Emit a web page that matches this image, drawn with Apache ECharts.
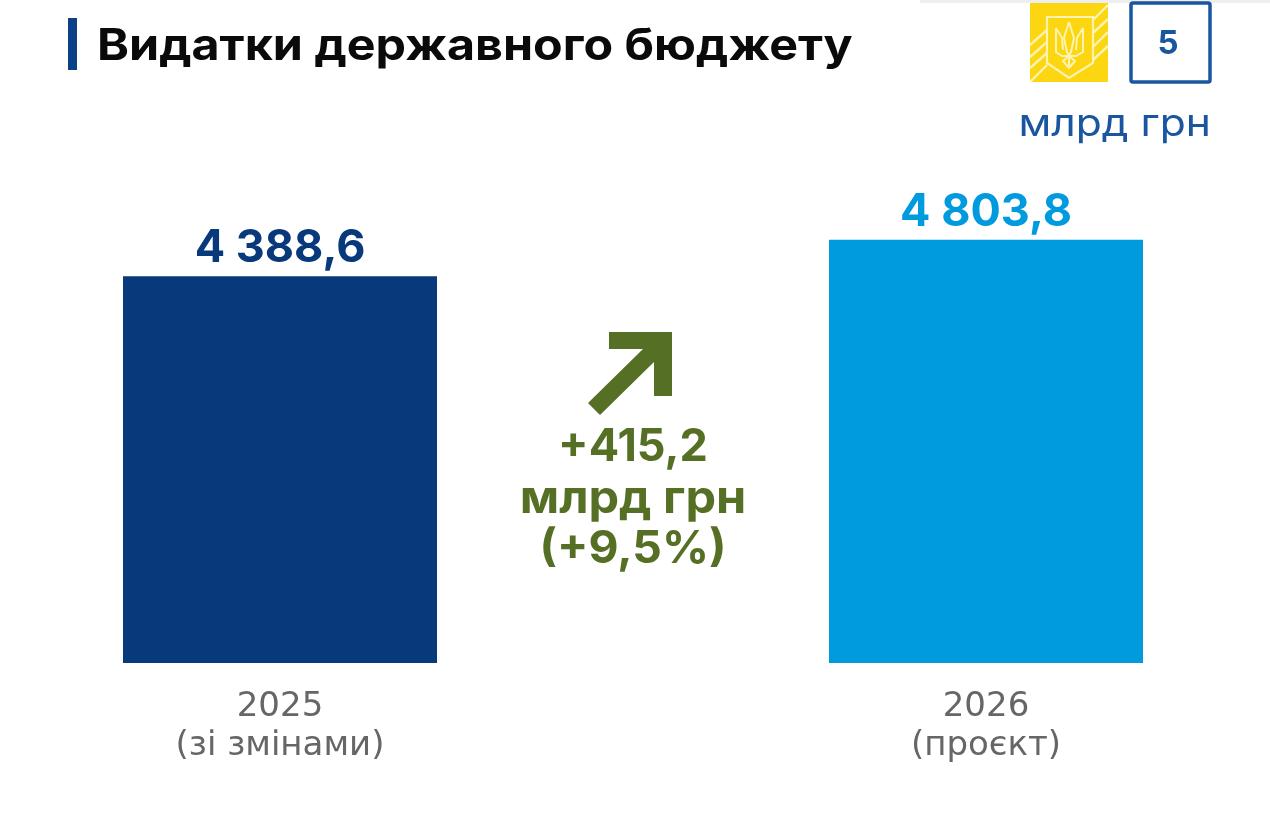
<!DOCTYPE html>
<html>
<head>
<meta charset="utf-8">
<title>Видатки державного бюджету</title>
<script src="https://cdn.jsdelivr.net/npm/echarts@6/dist/echarts.min.js"></script>
<style>
html, body { margin: 0; padding: 0; background: #fff; }
#main { width: 1270px; height: 830px; }
</style>
</head>
<body>
<div id="main"></div>
<script>
// дані
var categories = ['2025\n(зі змінами)', '', '2026\n(проєкт)'];
var values = [4388.6, null, 4803.8];
var valueLabels = ['4 388,6', '', '4 803,8'];
var barColors = ['#08397b', '#ffffff', '#009ade'];
var titleText = 'Видатки державного бюджету';
var unitText = 'млрд грн';
var pageNumber = '5';
var changeLines = ['+415,2', 'млрд грн', '(+9,5%)'];

var FONT = 'Inter, "Noto Sans", sans-serif';
var GREEN = '#556f25';
var BLUE = '#1a559f';
var PALE = '#fff3b0';
var YELLOW = '#fbd611';

var myChart = echarts.init(document.getElementById('main'), null, { renderer: 'canvas' });

var seriesData = [];
for (var i = 0; i < values.length; i++) {
	seriesData.push({
		value: values[i],
		itemStyle: { color: barColors[i] },
		label: { color: barColors[i], formatter: valueLabels[i] }
	});
}

// текст із горизонтальним розтягом (шрифт оригіналу ширший)
function wideText(x, y, text, fill, font, align, sx) {
	return {
		type: 'text', x: x, y: y, originX: 0, originY: 0, scaleX: sx,
		style: { text: text, fill: fill, font: font, textAlign: align, textVerticalAlign: 'middle' }
	};
}

// герб: жовтий квадрат, смуги, щит, тризуб
var emblem = [
	{ type: 'rect', shape: { x: 1030, y: 3, width: 78, height: 79 }, style: { fill: YELLOW } }
];
var stripes = [
	[[1093, 20], [1108, 5]], [[1093, 33], [1108, 19]], [[1093, 47], [1108, 32]], [[1093, 60], [1108, 46]],
	[[1030, 45], [1047, 30]], [[1030, 57], [1047, 42]], [[1030, 68], [1047, 53]], [[1030, 82], [1047, 65]]
];
stripes.forEach(function (s) {
	emblem.push({ type: 'polyline', shape: { points: s }, style: { stroke: PALE, lineWidth: 2.4, fill: null } });
});
emblem.push({
	type: 'polygon',
	shape: { points: [[1047, 17], [1093, 17], [1093, 63], [1069, 78], [1047, 63]] },
	style: { fill: YELLOW, stroke: PALE, lineWidth: 2.2 }
});
var trident = [
	[[1069, 22], [1064, 38], [1067, 52], [1069, 56], [1071, 52], [1074, 38], [1069, 22]],
	[[1056, 28], [1056, 52], [1062, 56], [1076, 56], [1083, 52], [1083, 28]],
	[[1056, 28], [1062, 38], [1063, 50]],
	[[1083, 28], [1077, 38], [1076, 50]],
	[[1069, 56], [1063, 61], [1069, 68], [1075, 61], [1069, 56]],
	[[1069, 56], [1069, 68]]
];
trident.forEach(function (t) {
	emblem.push({ type: 'polyline', shape: { points: t }, style: { stroke: PALE, lineWidth: 2, fill: null } });
});

myChart.setOption({
	animation: false,
	backgroundColor: '#ffffff',
	grid: { left: 103.5, width: 1059, top: 222.5, height: 440.5 },
	xAxis: {
		type: 'category',
		data: categories,
		axisLine: { show: false },
		axisTick: { show: false },
		axisLabel: {
			color: '#666666',
			fontFamily: '"DejaVu Sans", sans-serif',
			fontSize: 34,
			lineHeight: 39,
			margin: 25,
			interval: 0
		}
	},
	yAxis: { type: 'value', min: 0, max: 5000, show: false },
	series: [{
		type: 'bar',
		barWidth: 314,
		data: seriesData,
		label: {
			show: true,
			position: 'top',
			distance: 5,
			fontFamily: FONT,
			fontSize: 45,
			fontWeight: 700
		}
	}],
	graphic: emblem.concat([
		// тінь згори праворуч
		{ type: 'rect', shape: { x: 920, y: 0, width: 350, height: 3 }, style: { fill: '#eeeeee' } },
		// заголовок
		{ type: 'rect', shape: { x: 68, y: 18, width: 9, height: 52 }, style: { fill: '#0a4088' } },
		wideText(97, 47, titleText, '#0a0a0a', '700 44px ' + FONT, 'left', 1.1),
		// номер сторінки
		{ type: 'rect', shape: { x: 1131, y: 3, width: 79, height: 79, r: 2 }, style: { fill: '#fff', stroke: BLUE, lineWidth: 3.5 } },
		{ type: 'text', x: 1168, y: 44, style: { text: pageNumber, fill: BLUE, font: '700 33px ' + FONT, textAlign: 'center', textVerticalAlign: 'middle' } },
		wideText(1211, 125, unitText, BLUE, '400 38px ' + FONT, 'right', 1.12),
		// стрілка
		{
			type: 'polygon',
			shape: { points: [[609, 332], [672, 332], [672, 396], [654, 396], [654, 362], [600, 415], [588, 403], [643, 349], [609, 349]] },
			style: { fill: GREEN }
		},
		wideText(633, 447, changeLines[0], GREEN, '700 45px ' + FONT, 'center', 1),
		wideText(633, 499, changeLines[1], GREEN, '700 45px ' + FONT, 'center', 1.08),
		wideText(633, 549, changeLines[2], GREEN, '700 45px ' + FONT, 'center', 1.03)
	])
});
</script>
</body>
</html>
